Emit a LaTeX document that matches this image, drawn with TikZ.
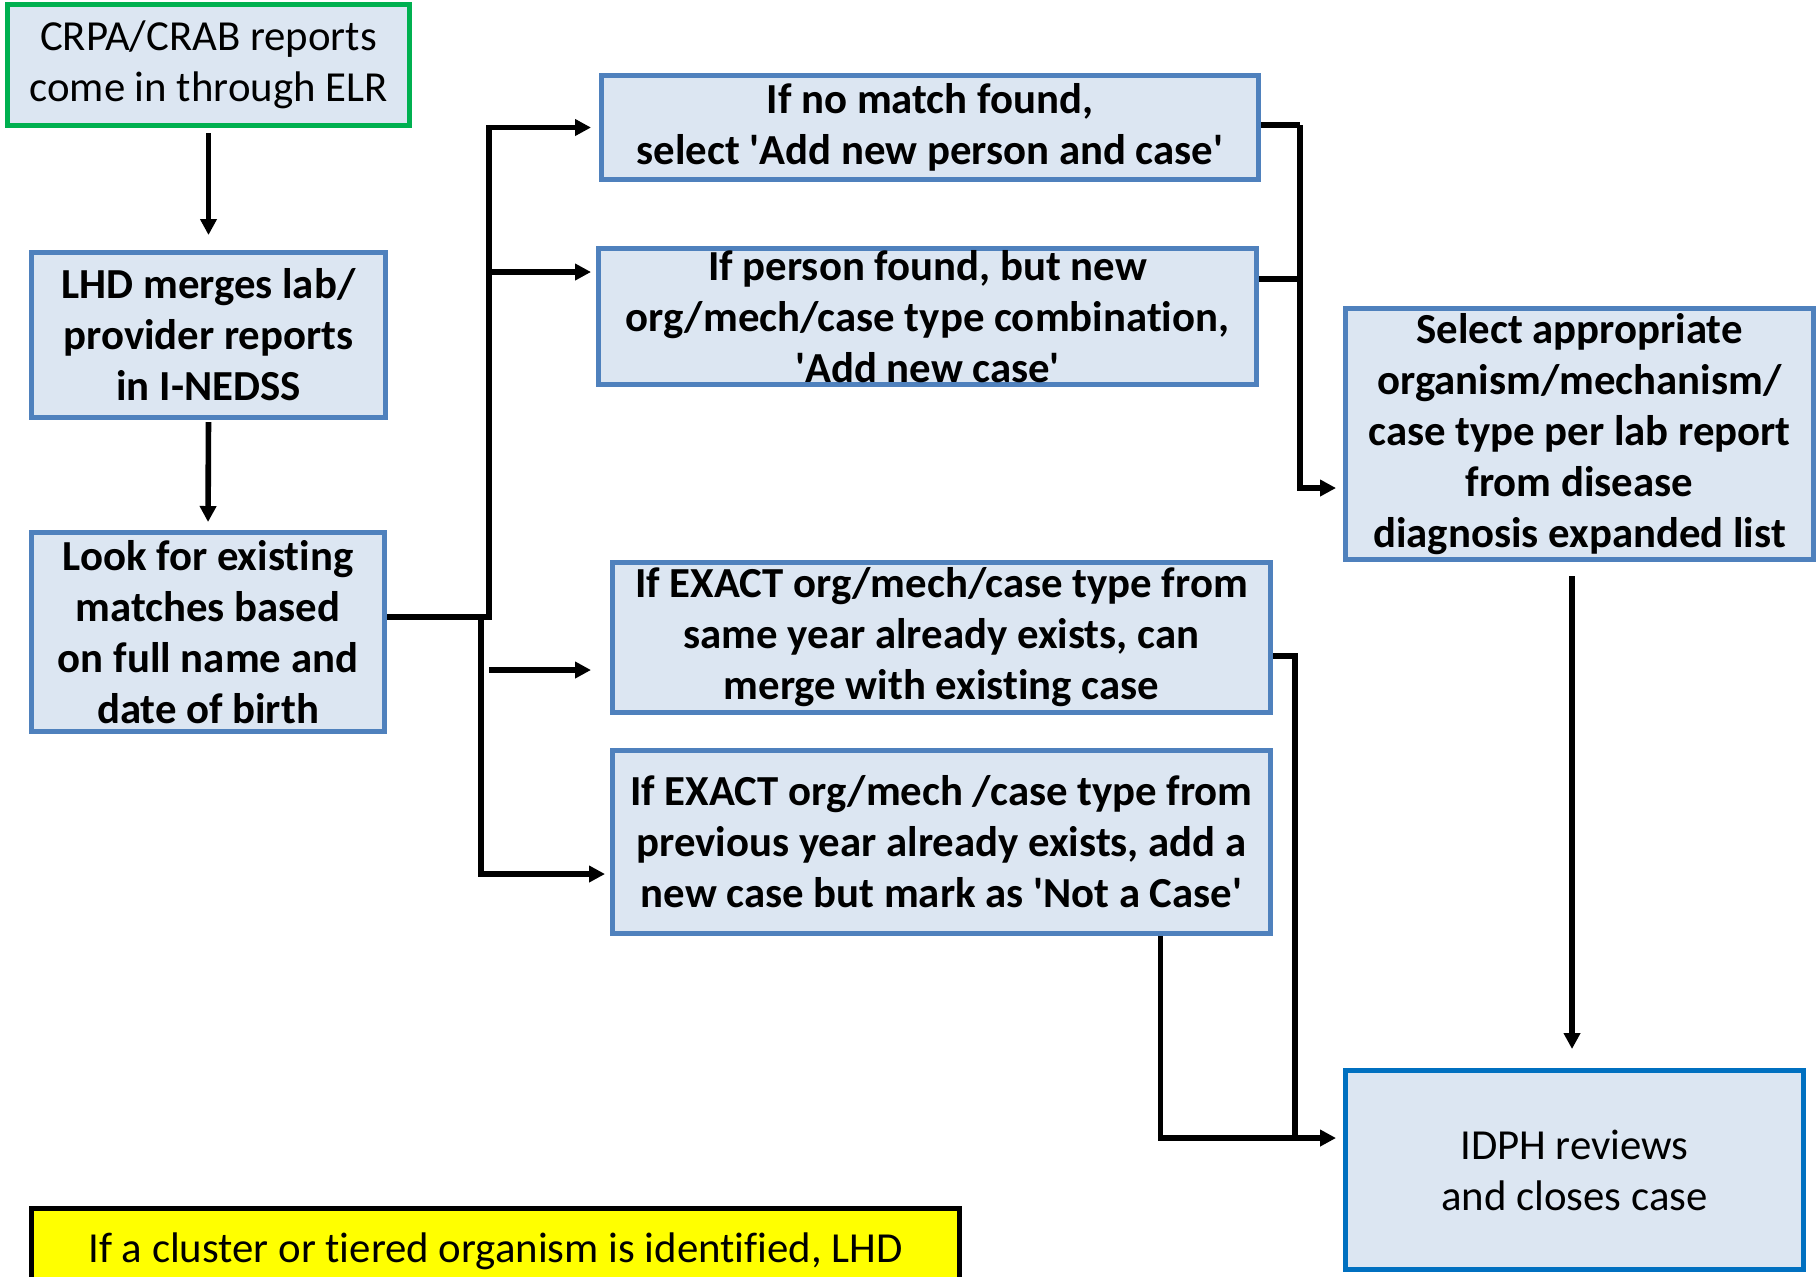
\documentclass[tikz,border=0pt]{standalone}
\usepackage{fontspec}
\setmainfont{Carlito}[Ligatures=CommonOff]
\usetikzlibrary{arrows.meta}
\definecolor{boxfill}{HTML}{DCE6F2}
\definecolor{boxline}{HTML}{4F81BD}
\definecolor{startline}{HTML}{00B050}
\definecolor{endline}{HTML}{0070C0}
\definecolor{notefill}{HTML}{FFFF00}
\newcommand{\q}{\textquotesingle}
\begin{document}
\begin{tikzpicture}[x=0.5pt,y=-0.5pt,
  box/.style={draw=boxline, fill=boxfill, line width=2.5pt, inner sep=0pt,
    align=center, font=\fontsize{21.4}{25.5}\selectfont\bfseries},
  plainbox/.style={box, font=\fontsize{21.4}{25.5}\selectfont},
  conn/.style={line width=2.8pt, line join=miter},
  arr/.style={conn, -{Triangle[length=8pt,width=8pt]}}]
\useasboundingbox (0,0) rectangle (1818,1276);

% process boxes
\node[plainbox, draw=startline, minimum width=201pt, minimum height=60.5pt] (elr) at (208.5,65)
  {CRPA/CRAB reports\\come in through ELR};
\node[box, minimum width=177pt, minimum height=82.5pt] (merge) at (208.5,335)
  {LHD merges lab/\\provider reports\\in I-NEDSS};
\node[box, minimum width=176.5pt, minimum height=99.5pt] (look) at (208,632)
  {Look for existing\\matches based\\on full name and\\date of birth};
\node[box, minimum width=328.5pt, minimum height=52pt] (nomatch) at (930,127.5)
  {If no match found,\\select \q Add new person and case\q};
\node[box, minimum width=329pt, minimum height=68pt] (newcase) at (927.5,316.5)
  {If person found, but new\\org/mech/case type combination,\\\q Add new case\q};
\node[box, minimum width=329pt, minimum height=75pt] (sameyear) at (941.5,637.5)
  {If EXACT org/mech/case type from\\same year already exists, can\\merge with existing case};
\node[box, minimum width=329pt, minimum height=91.5pt] (prevyear) at (941.5,842)
  {If EXACT org/mech /case type from\\previous year already exists, add a\\new case but mark as \q Not a Case\q};
\node[box, minimum width=234pt, minimum height=125.5pt] (select) at (1579.5,434)
  {Select appropriate\\organism/mechanism/\\case type per lab report\\from disease\\diagnosis expanded list};
\node[plainbox, draw=endline, minimum width=229pt, minimum height=99.5pt] (idph) at (1574.5,1170)
  {IDPH reviews\\and closes case};
\node[plainbox, draw=black, fill=notefill, minimum width=464pt, minimum height=42.5pt] (note) at (495.5,1251)
  {If a cluster or tiered organism is identified, LHD};

% junction points of the branching lines
\coordinate (ja) at (489,617);
\coordinate (jb) at (481,617);
\coordinate (ya) at (0,272);
\coordinate (yb) at (0,670);
\coordinate (yc) at (0,874);
\coordinate (jr) at (1300,125);
\coordinate (yr) at (0,488);
\coordinate (jd) at (1295,656);
\coordinate (je) at (1160.5,1138);
\coordinate (fa) at (489,670);

% left column
\draw[arr, shorten <=2.5pt, shorten >=7.5pt] (elr.south) -- (merge.north);
\draw[arr, shorten <=1pt, shorten >=4pt] (merge.south) -- (look.north);

% branches from the match lookup
\draw[arr, shorten >=4pt] (look.east |- ja) -- (ja) |- (nomatch.west);
\draw[arr, shorten >=2.5pt] (ja |- ya) -- (newcase.west |- ya);
\draw[arr, shorten >=2.5pt] (jb) |- (prevyear.west |- yc);
\draw[arr, shorten >=9.5pt] (fa) -- (sameyear.west |- yb);

% right column
\draw[conn] (nomatch.east |- jr) -- (jr);
\draw[arr, shorten >=3.5pt] (jr) |- (select.west |- yr);
\draw[conn] (newcase.east |- 0,279) -- (jr |- 0,279);
\draw[conn] (sameyear.east |- jd) -- (jd) -- (jd |- je);
\draw[arr, shorten >=3.5pt] (prevyear.south -| je) -- (je) -- (idph.west |- je);
\draw[arr, shorten <=7pt, shorten >=9.5pt] (select.south -| 1572,0) -- (idph.north -| 1572,0);
\end{tikzpicture}
\end{document}
